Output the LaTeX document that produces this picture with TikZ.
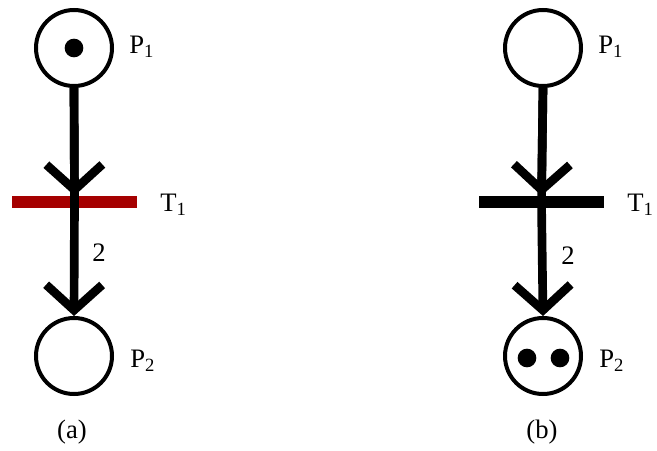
\documentclass[tikz,border=0pt]{standalone}
\usepackage{fontspec}
\setmainfont{Liberation Serif}
\usetikzlibrary{arrows.meta}
\definecolor{barred}{RGB}{165,0,0}
\begin{document}
\begin{tikzpicture}[x=0.75pt,y=-0.75pt,
  place/.style={circle,draw,line width=3pt,minimum size=57pt,inner sep=0pt},
  trans/.style={rectangle,inner sep=0pt,minimum width=94pt,minimum height=9pt},
  token/.style={circle,fill,inner sep=0pt,minimum size=14pt},
  lbl/.style={font=\fontsize{20}{24}\selectfont,inner sep=0pt},
  arc/.style={line width=6.5pt,-{Straight Barb[length=19pt,width=42pt]}},
  arcline/.style={line width=6.5pt}]
\useasboundingbox (0,0) rectangle (657,450);
% (a)
\node[place] (ap1) at (74,48) {};
\node[token] (atok) at (74,48) {};
\node[trans,fill=barred] (at1) at (74.5,202) {};
\node[place] (ap2) at (74,356) {};
\node[lbl,anchor=west] (alp1) at (129,47) {P\textsubscript{1}};
\node[lbl,anchor=west] (alt1) at (160,205) {T\textsubscript{1}};
\node[lbl,anchor=west] (alp2) at (130,361) {P\textsubscript{2}};
\node[lbl] (aw) at (99,253) {2};
\node[lbl] (acap) at (72,432) {(a)};
\draw[arcline] (ap1.south) -- (at1.center);
\draw[arc] (ap1.south) -- (at1.north);
\draw[arc] (at1.center) -- (ap2.north);
% (b)
\node[place] (bp1) at (543,48) {};
\node[trans,fill=black] (bt1) at (541.5,202) {};
\node[place] (bp2) at (543,356) {};
\node[token] (btok1) at (527,358) {};
\node[token] (btok2) at (560,358) {};
\node[lbl,anchor=west] (blp1) at (598,47) {P\textsubscript{1}};
\node[lbl,anchor=west] (blt1) at (627,205) {T\textsubscript{1}};
\node[lbl,anchor=west] (blp2) at (599,361) {P\textsubscript{2}};
\node[lbl] (bw) at (568,256) {2};
\node[lbl] (bcap) at (542,432) {(b)};
\draw[arcline] (bp1.south) -- (bt1.center);
\draw[arc] (bp1.south) -- (bt1.north);
\draw[arc] (bt1.center) -- (bp2.north);
\end{tikzpicture}
\end{document}
